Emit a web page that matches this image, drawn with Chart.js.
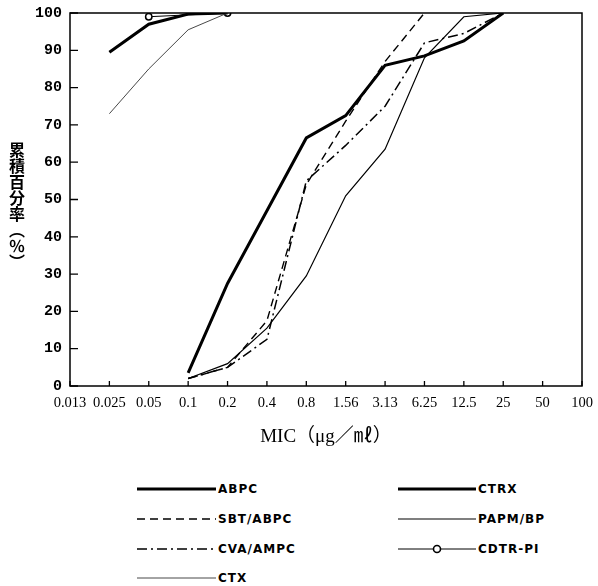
<!DOCTYPE html>
<html>
<head>
<meta charset="utf-8">
<script src="https://cdn.jsdelivr.net/npm/chart.js@4/dist/chart.umd.min.js"></script>
<style>
  html, body { margin: 0; padding: 0; background: #fff; }
  #page { position: relative; width: 598px; height: 586px; overflow: hidden; }
  #wrap { position: absolute; left: 0; top: 0; width: 598px; height: 458px; }
  #ytitle {
    position: absolute; left: 9px; top: 142px;
    writing-mode: vertical-rl; font-family: "Noto Sans CJK JP", sans-serif;
    font-weight: 700; font-size: 16px; line-height: 16px; letter-spacing: 0px; color: #000;
  }
  .leg { position: absolute; display: flex; align-items: center; height: 14px;
    font-family: "DejaVu Sans", sans-serif; font-weight: 700; font-size: 12px;
    letter-spacing: 1px; color: #000; }
  .leg svg { display: block; margin-right: 2px; }
</style>
</head>
<body>
<div id="page">
  <div id="wrap"><canvas id="c"></canvas></div>
  <div id="ytitle">累積百分率（％）</div>
  <div id="legend"></div>
</div>
<script>
// MIC categories (µg/ml) and cumulative % per drug
const micLabels = ['0.013', '0.025', '0.05', '0.1', '0.2', '0.4', '0.8', '1.56', '3.13', '6.25', '12.5', '25', '50', '100'];

const abpc    = [null, null, null, 3.5, 27.5, 47, 66.5, 72.5, 86, 88.5, 92.5, 100, null, null];
const sbtAbpc = [null, null, null, 2, 5, 17.5, 54, 71, 87, 100, null, null, null, null];
const cvaAmpc = [null, null, null, 2, 5, 12.5, 55, 64.5, 75, 92, 94.5, 100, null, null];
const ctx     = [null, 73, 85, 95.5, 100, null, null, null, null, null, null, null, null, null];
const ctrx    = [null, 89.5, 97, 99.7, 100, null, null, null, null, null, null, null, null, null];
const papmBp  = [null, null, null, 2, 6, 15.5, 29.5, 51, 63.5, 88, 99, 100, null, null];
const cdtrPi  = [null, null, 99, null, 100, null, null, null, null, null, null, null, null, null];

const drugNames = ['ABPC', 'SBT/ABPC', 'CVA/AMPC', 'CTX', 'CTRX', 'PAPM/BP', 'CDTR-PI'];

const styles = [
  { width: 3, dash: [] },
  { width: 1.4, dash: [8, 5] },
  { width: 1.5, dash: [10, 4, 2, 4] },
  { width: 0.9, dash: [], color: '#333' },
  { width: 3, dash: [] },
  { width: 1.2, dash: [] },
  { width: 1, dash: [], marker: true },
];

const seriesData = [abpc, sbtAbpc, cvaAmpc, ctx, ctrx, papmBp, cdtrPi];

const datasets = seriesData.map((d, i) => {
  const s = styles[i];
  return {
    label: drugNames[i],
    data: d,
    borderColor: s.color || '#000',
    borderWidth: s.width,
    borderDash: s.dash,
    tension: 0,
    spanGaps: !!s.marker,
    pointRadius: s.marker ? 3.2 : 0,
    pointStyle: 'circle',
    pointBackgroundColor: '#fff',
    pointBorderColor: '#000',
    pointBorderWidth: 1.5,
    fill: false,
  };
});

// box + inward tick marks, using the chart's own scales
const framePlugin = {
  id: 'frame',
  afterDraw(chart) {
    const { ctx: g, chartArea: a, scales } = chart;
    g.save();
    g.strokeStyle = '#000';
    g.lineWidth = 1.5;
    g.strokeRect(a.left, a.top, a.right - a.left, a.bottom - a.top);
    g.lineWidth = 1.3;
    g.beginPath();
    scales.x.ticks.forEach((t, i) => {
      const px = scales.x.getPixelForTick(i);
      g.moveTo(px, a.bottom);
      g.lineTo(px, a.bottom - 5);
    });
    scales.y.ticks.forEach((t, i) => {
      const py = scales.y.getPixelForTick(i);
      g.moveTo(a.left, py);
      g.lineTo(a.left + 8, py);
    });
    g.stroke();
    g.restore();
  },
};

new Chart(document.getElementById('c'), {
  type: 'line',
  data: { labels: micLabels, datasets },
  options: {
    responsive: true, maintainAspectRatio: false, animation: false,
    layout: { padding: { top: 13, right: 16, left: 0, bottom: 0 } },
    plugins: { legend: { display: false }, tooltip: { enabled: false } },
    scales: {
      x: {
        offset: false,
        grid: { display: false, tickLength: 0 },
        border: { display: false },
        ticks: {
          color: '#000', padding: 8, maxRotation: 0, autoSkip: false,
          font: { family: '"Liberation Serif", serif', size: 14.5 },
        },
        title: {
          display: true, text: 'MIC（μg／㎖）', color: '#000',
          padding: { top: 0, bottom: 10 },
          font: { family: '"Liberation Serif", "Noto Sans CJK JP", serif', size: 19 },
        },
        afterFit: (s) => { s.height = 72; s.paddingLeft = 0; s.paddingRight = 0; },
      },
      y: {
        min: 0, max: 100,
        grid: { display: false, tickLength: 0 },
        border: { display: false },
        ticks: {
          stepSize: 10, color: '#000', padding: 8,
          font: { family: '"Liberation Mono", monospace', size: 15, weight: 'bold' },
        },
        afterFit: (s) => { s.width = 70; s.paddingTop = 0; s.paddingBottom = 0; },
      },
    },
  },
  plugins: [framePlugin],
});

// legend in two columns, built from the same names and styles
const legendCols = [[0, 1, 2, 3], [4, 5, 6]];
const colX = [137, 398];
const rowY = [482, 512, 542, 571];
const legendEl = document.getElementById('legend');
legendCols.forEach((col, c) => {
  col.forEach((idx, r) => {
    const s = styles[idx];
    const w = c === 0 ? 79 : 78;
    const item = document.createElement('div');
    item.className = 'leg';
    item.style.left = colX[c] + 'px';
    item.style.top = rowY[r] + 'px';
    let svg = `<svg width="${w}" height="14"><line x1="0" y1="7" x2="${w}" y2="7" stroke="${s.color || '#000'}" stroke-width="${s.width}" stroke-dasharray="${s.dash.join(' ')}"/>`;
    if (s.marker) svg += `<circle cx="${w / 2}" cy="7" r="3.5" fill="#fff" stroke="#000" stroke-width="1.6"/>`;
    svg += '</svg>';
    item.innerHTML = svg + '<span>' + drugNames[idx] + '</span>';
    legendEl.appendChild(item);
  });
});
</script>
</body>
</html>
